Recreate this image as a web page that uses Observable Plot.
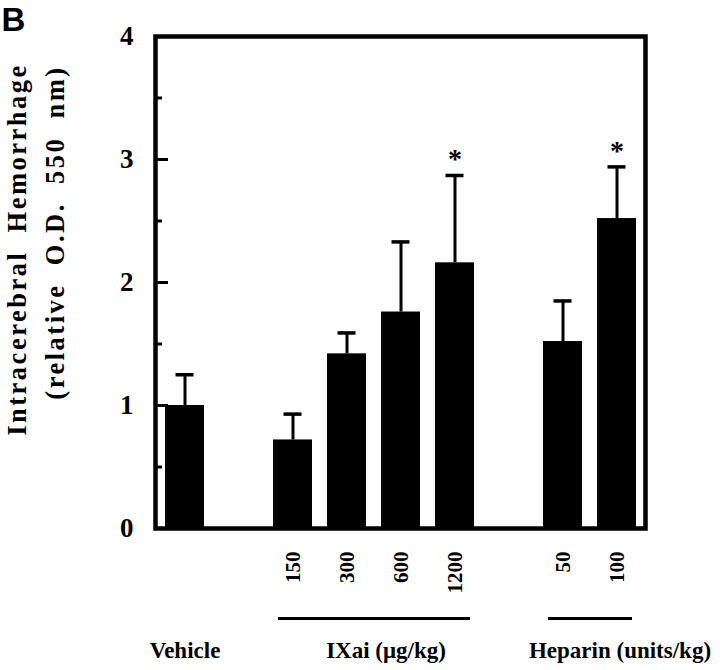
<!DOCTYPE html>
<html><head><meta charset="utf-8">
<script src="https://cdn.jsdelivr.net/npm/d3@7"></script>
<script src="https://cdn.jsdelivr.net/npm/@observablehq/plot@0.6"></script>
<style>body{margin:0;background:#fff}</style>
</head><body><div id="chart"></div>
<script>
// ---- data ----
const slots = ["Vehicle", "gap1", "150", "300", "600", "1200", "gap2", "50", "100"];
const barKeys = ["Vehicle", "150", "300", "600", "1200", "50", "100"];
const means = [1.00, 0.72, 1.42, 1.76, 2.16, 1.52, 2.52];
const upperErr = [1.25, 0.93, 1.59, 2.33, 2.87, 1.85, 2.94];
const significant = [false, false, false, false, true, false, true];
const doseTicks = ["150", "300", "600", "1200", "50", "100"];
const yTicks = [0, 1, 2, 3, 4];
const yMajor = [1, 2, 3];
const yMinor = [0.5, 1.5, 2.5, 3.5];
const groupSpans = [{first: "150", last: "1200"}, {first: "50", last: "100"}];
const yTitle1 = "Intracerebral\u00a0\u00a0Hemorrhage";
const yTitle2 = "(relative\u00a0\u00a0O.D.\u00a0\u00a0550\u00a0\u00a0nm)";
const panelLabel = "B";
const labelVehicle = "Vehicle";
const labelIXai = "IXai (\u03bcg/kg)";
const labelHeparin = "Heparin (units/kg)";

// ---- layout ----
const W = 720, H = 670, ML = 155, MR = 75, MT = 36, MB = 142;
const FW = W - ML - MR;
const serif = "'Liberation Serif','Times New Roman',serif";

const bars = barKeys.map((k, i) => ({key: k, mean: means[i], upper: upperErr[i], sig: significant[i]}));

const plot = Plot.plot({
  width: W, height: H,
  marginLeft: ML, marginRight: MR, marginTop: MT, marginBottom: MB,
  style: {fontFamily: serif, background: "white", color: "black"},
  x: {type: "band", domain: slots, paddingInner: 0.285, paddingOuter: 0.1425, label: null},
  y: {domain: [0, 4], label: null},
  marks: [
    Plot.barY(bars, {x: "key", y: "mean", fill: "black"}),
    Plot.ruleX(bars, {x: "key", y1: "mean", y2: "upper", stroke: "black", strokeWidth: 3}),
    Plot.tickY(bars, {x: "key", y: "upper", stroke: "black", strokeWidth: 3.5, inset: 10.5}),
    Plot.text(bars.filter(d => d.sig), {x: "key", y: "upper", text: () => "*", fontSize: 28, fontWeight: "bold", dy: -16}),
    Plot.ruleY(yMajor, {y: d => d, insetRight: FW - 13, stroke: "black", strokeWidth: 3}),
    Plot.ruleY(yMinor, {y: d => d, insetRight: FW - 7, stroke: "black", strokeWidth: 3}),
    Plot.frame({stroke: "black", strokeWidth: 4.5}),
    Plot.axisY({ticks: yTicks, tickFormat: d3.format("d"), tickSize: 0, tickPadding: 22, fontSize: 27, fontWeight: "bold", label: null}),
    Plot.axisX({ticks: doseTicks, tickRotate: -90, tickSize: 0, tickPadding: 23, fontSize: 21, fontWeight: "bold", label: null}),
    Plot.ruleY(groupSpans, {y: () => 0, x1: "first", x2: "last", dy: 90, stroke: "black", strokeWidth: 3, insetLeft: 5, insetRight: 4}),
    Plot.text([labelVehicle], {x: () => "Vehicle", frameAnchor: "bottom", text: d => d, lineAnchor: "bottom", dy: 129, fontSize: 23, fontWeight: "bold"}),
    Plot.text([labelIXai], {x: () => "600", frameAnchor: "bottom", text: d => d, lineAnchor: "bottom", dx: -15, dy: 129, fontSize: 23, fontWeight: "bold"}),
    Plot.text([labelHeparin], {x: () => "100", frameAnchor: "bottom", text: d => d, lineAnchor: "bottom", dx: 3, dy: 129, fontSize: 23, fontWeight: "bold"}),
    Plot.text([yTitle1], {frameAnchor: "left", textAnchor: "middle", text: d => d, rotate: -90, dx: -138, dy: -33, fontSize: 26.5, fontWeight: "bold"}),
    Plot.text([yTitle2], {frameAnchor: "left", textAnchor: "middle", text: d => d, rotate: -90, dx: -100, dy: -50, fontSize: 26.5, fontWeight: "bold"}),
    Plot.text([panelLabel], {frameAnchor: "top-left", text: d => d, textAnchor: "start", lineAnchor: "bottom", dx: -154, dy: -6, fontSize: 33, fontWeight: "bold", fontFamily: "'Liberation Sans',Arial,sans-serif"})
  ]
});

d3.select(plot).selectAll("text")
  .filter(function() { const t = this.textContent; return t.startsWith("Intracerebral") || t.startsWith("(relative"); })
  .attr("letter-spacing", "2.5px");

document.getElementById("chart").appendChild(plot);
</script>
</body></html>
